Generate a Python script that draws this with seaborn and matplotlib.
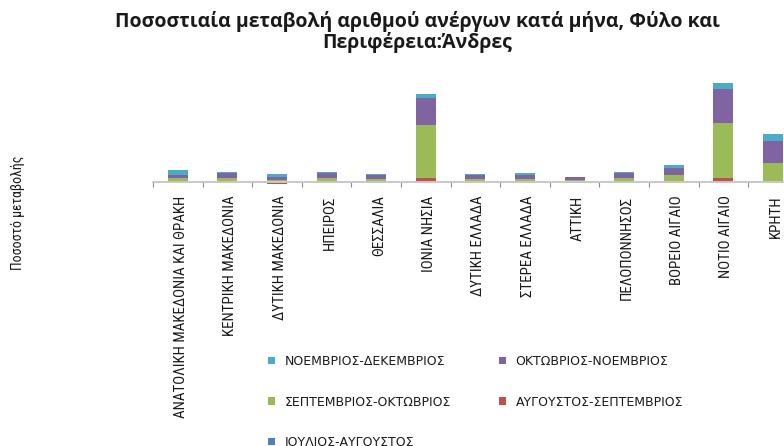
import numpy as np
import pandas as pd
import matplotlib
matplotlib.use("Agg")
import matplotlib.pyplot as plt
import matplotlib.transforms as mtransforms
from matplotlib.patches import Patch
from matplotlib import font_manager
import seaborn as sns

# ---------------- data ----------------
regions = [
    "ΑΝΑΤΟΛΙΚΗ ΜΑΚΕΔΟΝΙΑ ΚΑΙ ΘΡΑΚΗ",
    "ΚΕΝΤΡΙΚΗ ΜΑΚΕΔΟΝΙΑ",
    "ΔΥΤΙΚΗ ΜΑΚΕΔΟΝΙΑ",
    "ΗΠΕΙΡΟΣ",
    "ΘΕΣΣΑΛΙΑ",
    "ΙΟΝΙΑ ΝΗΣΙΑ",
    "ΔΥΤΙΚΗ ΕΛΛΑΔΑ",
    "ΣΤΕΡΕΑ ΕΛΛΑΔΑ",
    "ΑΤΤΙΚΗ",
    "ΠΕΛΟΠΟΝΝΗΣΟΣ",
    "ΒΟΡΕΙΟ ΑΙΓΑΙΟ",
    "ΝΟΤΙΟ ΑΙΓΑΙΟ",
    "ΚΡΗΤΗ",
]

series_names = [
    "ΙΟΥΛΙΟΣ-ΑΥΓΟΥΣΤΟΣ",
    "ΑΥΓΟΥΣΤΟΣ-ΣΕΠΤΕΜΒΡΙΟΣ",
    "ΣΕΠΤΕΜΒΡΙΟΣ-ΟΚΤΩΒΡΙΟΣ",
    "ΟΚΤΩΒΡΙΟΣ-ΝΟΕΜΒΡΙΟΣ",
    "ΝΟΕΜΒΡΙΟΣ-ΔΕΚΕΜΒΡΙΟΣ",
]

jul_aug = [0.0, 0.0, -1.0, 0.0, 0.0, 0.0, 0.0, 0.0, 0.0, -1.3, 0.0, 0.0, 0.0]
aug_sep = [0.3, 0.0, -1.0, 0.7, -1.2, 3.7, 0.0, 0.0, -1.3, 0.0, 1.0, 4.0, 0.0]
sep_oct = [3.0, 3.7, 2.0, 3.0, 2.7, 53.3, 2.7, 2.7, 1.7, 3.7, 6.0, 55.0, 18.3]
oct_nov = [3.7, 4.7, 3.0, 4.7, 3.7, 27.0, 3.7, 4.3, 2.7, 5.0, 6.7, 34.0, 22.3]
nov_dec = [4.3, 1.3, 3.0, 1.3, 1.3, 3.4, 1.0, 1.3, 0.7, 1.3, 2.7, 5.3, 7.0]

series_values = [jul_aug, aug_sep, sep_oct, oct_nov, nov_dec]
colors = ["#4F81BD", "#C0504D", "#9BBB59", "#8064A2", "#4BACC6"]

title = "Ποσοστιαία μεταβολή αριθμού ανέργων κατά μήνα, Φύλο και\nΠεριφέρεια:Άνδρες"
ylabel = "Ποσοστό μεταβολής"

# ---------------- style ----------------
sns.set_theme(style="white")
plt.rcParams["font.family"] = ["DejaVu Sans"]

installed = {f.name for f in font_manager.fontManager.ttflist}
narrow_fam = None
for cand in ["Liberation Sans Narrow", "DejaVu Sans Condensed", "Roboto Condensed",
             "Open Sans Condensed"]:
    if cand in installed:
        narrow_fam = cand
        break
if narrow_fam is None:
    narrow_fam = "DejaVu Sans"
narrow_kw = dict(family=[narrow_fam, "DejaVu Sans"], stretch="condensed")
is_narrow = narrow_fam != "DejaVu Sans" or any(
    f.name == "DejaVu Sans" and f.stretch == "condensed" for f in font_manager.fontManager.ttflist)
tick_fs = 10.8 if is_narrow else 8.6
ylab_fs = 10 if is_narrow else 8.2

W, H = 784, 446
fig = plt.figure(figsize=(W / 100, H / 100), dpi=100)
fig.patch.set_facecolor("white")

ax_left, ax_top, ax_bottom = 153, 75, 190
ax_w = 13 * 49.6
ax = fig.add_axes([ax_left / W, (H - ax_bottom) / H, ax_w / W, (ax_bottom - ax_top) / H])
ax.set_facecolor("white")

n = len(regions)
pos_cum = np.zeros(n)
neg_cum = np.zeros(n)
for name, vals, col in zip(series_names, series_values, colors):
    v = np.asarray(vals, dtype=float)
    bottom = np.where(v >= 0, pos_cum, neg_cum)
    df = pd.DataFrame({"region": regions, "value": v})
    sns.barplot(data=df, x="region", y="value", order=regions, color=col,
                saturation=1, width=0.4, errorbar=None, bottom=bottom,
                linewidth=0, ax=ax)
    pos_cum += np.where(v > 0, v, 0)
    neg_cum += np.where(v < 0, v, 0)

ax.set_xlim(-0.5, n - 0.5)
baseline = 181.7
ax.set_ylim(-(ax_bottom - baseline), baseline - ax_top)

for s in ["left", "top", "right"]:
    ax.spines[s].set_visible(False)
ax.spines["bottom"].set_position(("data", 0))
ax.spines["bottom"].set_color("#C8C8C8")
ax.spines["bottom"].set_linewidth(1.4)

ax.set_yticks([])
ax.set_ylabel("")
ax.set_xlabel("")
ax.set_xticks(range(n))
ax.set_xticks(np.arange(-0.5, n, 1.0), minor=True)
ax.tick_params(axis="x", which="major", length=0, pad=10)
ax.tick_params(axis="x", which="minor", length=3.5, width=0.8, color="#8C8C8C",
               direction="out", bottom=True)
ax.set_xticklabels(regions, rotation=90, fontsize=tick_fs, va="top", ha="center",
                   color="#1A1A1A", **narrow_kw)
offset = mtransforms.ScaledTranslation(3 / 100, 0, fig.dpi_scale_trans)
for lab in ax.get_xticklabels():
    lab.set_transform(lab.get_transform() + offset)

fig.text(18 / W, 1 - 213 / H, ylabel, rotation=90, ha="center", va="center",
         fontsize=ylab_fs, color="#1A1A1A", **narrow_kw)

fig.text(417 / W, 1 - 32 / H, title, ha="center", va="center", fontsize=14,
         fontweight="bold", family=["Open Sans", "DejaVu Sans"],
         linespacing=1.0, multialignment="center", color="#1A1A1A")

# legend in row-major order: (ND, ON), (SO, AS), (JA)
handles = {nm: Patch(facecolor=c, edgecolor="none") for nm, c in zip(series_names, colors)}
leg_order = [series_names[4], series_names[2], series_names[0], series_names[3], series_names[1]]
fig.legend([handles[k] for k in leg_order], leg_order, ncol=2, loc="upper left",
           bbox_to_anchor=(268 / W, 1 - 355 / H), frameon=False,
           prop={"family": "DejaVu Sans", "size": 9},
           handlelength=0.55, handleheight=0.55, handletextpad=0.8,
           columnspacing=3.8, labelspacing=2.2, borderpad=0, borderaxespad=0,
           labelcolor="#1A1A1A")

fig.savefig("out.png", dpi=100, facecolor="white")
